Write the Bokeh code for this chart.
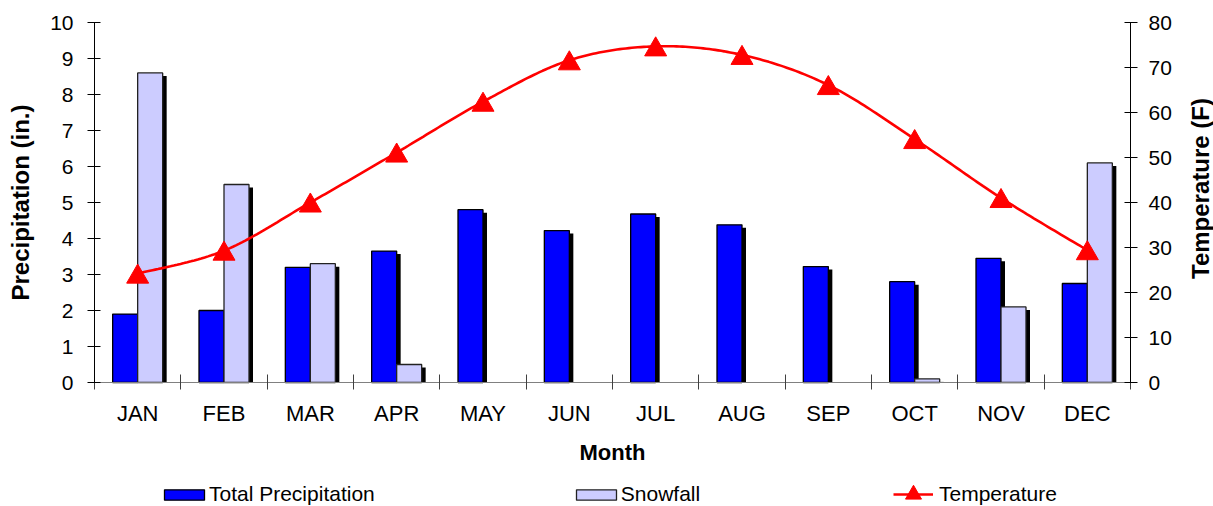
import math
import numpy as np
from bokeh.plotting import figure
from bokeh.models import (Range1d, LinearAxis, FixedTicker, Legend, LegendItem,
                          ColumnDataSource, Label)
from bokeh.embed import file_html
from bokeh.resources import INLINE

# ---- data -------------------------------------------------------------
months = ["JAN", "FEB", "MAR", "APR", "MAY", "JUN",
          "JUL", "AUG", "SEP", "OCT", "NOV", "DEC"]
total_precip = [1.9, 2.0, 3.2, 3.65, 4.8, 4.22, 4.68, 4.38, 3.22, 2.8, 3.45, 2.75]
snowfall = [8.6, 5.5, 3.3, 0.5, 0.0, 0.0, 0.0, 0.0, 0.0, 0.1, 2.1, 6.1]
temperature = [24.2, 29.3, 40.0, 51.1, 62.4, 71.6, 74.7, 72.8, 66.1, 54.1, 41.0, 29.4]
precip_ticks = list(range(0, 11))
temp_ticks = list(range(0, 81, 10))

# ---- geometry: the frame fills the canvas, the axes sit at fixed spots --
FONT = "Liberation Sans"
W, H = 1213, 506
PLOT_L, PLOT_R, PLOT_T, PLOT_B = 94, 1130, 22, 382   # plotting area in px

n = len(months)
p_max = precip_ticks[-1]
t_max = temp_ticks[-1]
px_x = (PLOT_R - PLOT_L) / n
px_y = (PLOT_B - PLOT_T) / p_max
px_t = (PLOT_B - PLOT_T) / t_max

p = figure(width=W, height=H,
           x_range=Range1d(-PLOT_L / px_x, n + (W - PLOT_R) / px_x),
           y_range=Range1d(-(H - PLOT_B) / px_y, p_max + PLOT_T / px_y),
           x_axis_type=None, y_axis_type=None,
           toolbar_location=None, output_backend="svg",
           min_border=0, min_border_left=0, min_border_right=0,
           min_border_top=0, min_border_bottom=0)
p.extra_y_ranges = {"temp": Range1d(-(H - PLOT_B) / px_t, t_max + PLOT_T / px_t)}
p.outline_line_color = None
p.background_fill_color = "white"
p.border_fill_color = "white"

# ---- axes -------------------------------------------------------------
left_ax = LinearAxis(ticker=FixedTicker(ticks=precip_ticks, minor_ticks=[]),
                     axis_label="Precipitation (in.)",
                     fixed_location=0, bounds=(0, p_max))
left_ax.major_tick_in = 6
left_ax.major_tick_out = 7
left_ax.major_label_standoff = 14
left_ax.axis_label_standoff = 13
p.add_layout(left_ax, "left")

right_ax = LinearAxis(y_range_name="temp",
                      ticker=FixedTicker(ticks=temp_ticks, minor_ticks=[]),
                      fixed_location=n, bounds=(0, t_max))
right_ax.major_tick_in = 6
right_ax.major_tick_out = 7
right_ax.major_label_standoff = 11
p.add_layout(right_ax, "right")

for ax in (left_ax, right_ax):
    ax.axis_line_color = "black"
    ax.major_tick_line_color = "black"
    ax.major_label_text_font = FONT
    ax.major_label_text_font_size = "21px"
    ax.major_label_text_color = "black"
    ax.axis_label_text_font = FONT
    ax.axis_label_text_font_size = "24px"
    ax.axis_label_text_font_style = "bold"
    ax.axis_label_text_color = "black"

# right-hand title, reading upwards like the left one
p.add_layout(Label(x=1200, y=H - 188, x_units="screen", y_units="screen",
                   text="Temperature (F)", angle=math.pi / 2,
                   text_align="center", text_baseline="middle",
                   text_font=FONT, text_font_size="24px",
                   text_font_style="bold", text_color="black"))

# category boundaries: tick marks only
bound_ax = LinearAxis(ticker=FixedTicker(ticks=list(range(n + 1)), minor_ticks=[]),
                      fixed_location=0, bounds=(0, n))
bound_ax.major_tick_in = 8
bound_ax.major_tick_out = 7
bound_ax.major_label_standoff = 0
bound_ax.major_label_text_font_size = "0px"
bound_ax.major_label_overrides = {i: "" for i in range(n + 1)}
bound_ax.axis_line_color = "#808080"
bound_ax.major_tick_line_color = "#404040"
p.add_layout(bound_ax, "below")

# month names centred in each category
centers = [i + 0.5 for i in range(n)]
month_ax = LinearAxis(ticker=FixedTicker(ticks=centers, minor_ticks=[]),
                      axis_label="Month", fixed_location=0, bounds=(0, n))
month_ax.major_label_overrides = {c: m for c, m in zip(centers, months)}
month_ax.axis_line_color = None
month_ax.major_tick_line_color = None
month_ax.major_tick_in = 0
month_ax.major_tick_out = 0
month_ax.major_label_standoff = 18
month_ax.major_label_text_font = FONT
month_ax.major_label_text_font_size = "22px"
month_ax.major_label_text_color = "black"
month_ax.axis_label_standoff = 11
month_ax.axis_label_text_font = FONT
month_ax.axis_label_text_font_size = "22px"
month_ax.axis_label_text_font_style = "bold"
month_ax.axis_label_text_color = "black"
p.add_layout(month_ax, "below")

# ---- bars with drop shadows ------------------------------------------
bar_w = 25 / px_x
sh_dx = 4 / px_x
sh_dy = 3 / px_y

px_pos = [c - bar_w / 2 for c in centers]
sn_idx = [i for i, v in enumerate(snowfall) if v > 0]
sn_pos = [centers[i] + bar_w / 2 for i in sn_idx]
sn_val = [snowfall[i] for i in sn_idx]

precip_src = ColumnDataSource(dict(x=px_pos, top=total_precip,
                                   sx=[x + sh_dx for x in px_pos],
                                   stop=[v - sh_dy for v in total_precip]))
snow_src = ColumnDataSource(dict(x=sn_pos, top=sn_val,
                                 sx=[x + sh_dx for x in sn_pos],
                                 stop=[v - sh_dy for v in sn_val]))

p.vbar(x="sx", top="stop", bottom=0, width=bar_w, source=precip_src,
       fill_color="black", line_color=None)
precip_r = p.vbar(x="x", top="top", bottom=0, width=bar_w, source=precip_src,
                  fill_color="#0000FF", line_color="black", line_width=1.3)
p.vbar(x="sx", top="stop", bottom=0, width=bar_w, source=snow_src,
       fill_color="black", line_color=None)
snow_r = p.vbar(x="x", top="top", bottom=0, width=bar_w, source=snow_src,
                fill_color="#CCCCFF", line_color="#222222", line_width=1.3)

# ---- smoothed temperature curve (cubic Bezier through the points) -----
pts = np.column_stack([centers, temperature]).astype(float)
ext = np.vstack([pts[0], pts, pts[-1]])
curve = [pts[0]]
t = np.linspace(0, 1, 30)[1:, None]
for i in range(n - 1):
    p0, p1, p2, p3 = ext[i], ext[i + 1], ext[i + 2], ext[i + 3]
    c1 = p1 + (p2 - p0) / 6.0
    c2 = p2 - (p3 - p1) / 6.0
    seg = ((1 - t) ** 3) * p1 + 3 * ((1 - t) ** 2) * t * c1 \
        + 3 * (1 - t) * (t ** 2) * c2 + (t ** 3) * p2
    curve.extend(seg)
curve = np.array(curve)

temp_line = p.line(curve[:, 0], curve[:, 1], y_range_name="temp",
                   line_color="#FF0000", line_width=2.6)

tri_size = 22
tri_shift = (tri_size * math.sqrt(3) / 2 / 6) / px_t
temp_pts = p.scatter(centers, [v - tri_shift for v in temperature],
                     y_range_name="temp", marker="triangle", size=tri_size,
                     fill_color="#FF0000", line_color="#FF0000")

# ---- legends along the bottom ----------------------------------------
LEG_Y = 494          # vertical centre of the legend row (px from top)
bar_leg = Legend(items=[LegendItem(label="Total Precipitation", renderers=[precip_r]),
                        LegendItem(label="Snowfall", renderers=[snow_r])],
                 orientation="horizontal",
                 location=(159, H - LEG_Y - 13),
                 spacing=196, glyph_width=50, glyph_height=13, label_standoff=0,
                 label_height=26,
                 label_text_font=FONT, label_text_font_size="21px",
                 label_text_color="black", padding=0, margin=0,
                 border_line_color=None, background_fill_alpha=0)
p.add_layout(bar_leg)

temp_leg = Legend(items=[LegendItem(label="Temperature",
                                    renderers=[temp_line, temp_pts])],
                  orientation="horizontal",
                  location=(893, H - LEG_Y - 20),
                  glyph_width=40, glyph_height=40, label_standoff=6,
                  label_text_font=FONT, label_text_font_size="21px",
                  label_text_color="black", padding=0, margin=0,
                  border_line_color=None, background_fill_alpha=0)
p.add_layout(temp_leg)

open("out.html", "w").write(file_html(p, INLINE))
